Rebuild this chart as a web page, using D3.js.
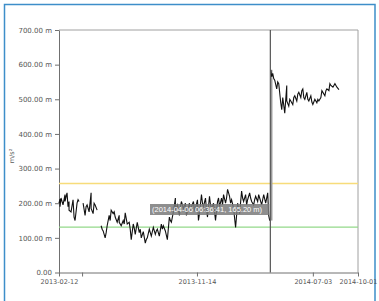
<!DOCTYPE html>
<html>
<head>
<meta charset="utf-8">
<script src="https://cdn.jsdelivr.net/npm/d3@7"></script>
<style>
  body { margin: 0; background: #fff; }
  svg { display: block; }
</style>
</head>
<body>
<div id="chart"></div>
<script>
// before the jump (null = gap in the record); repeated dates are same-day readings
let phase1 = [
  ["2013-02-12", 200], ["2013-02-14", 212], ["2013-02-14", 190], ["2013-02-16", 215], ["2013-02-20", 195], ["2013-02-24", 225],
  ["2013-02-24", 205], ["2013-02-28", 230], ["2013-03-02", 190], ["2013-03-04", 205], ["2013-03-04", 180], ["2013-03-08", 175],
  ["2013-03-12", 210], ["2013-03-14", 160], ["2013-03-16", 150], ["2013-03-20", 200], ["2013-03-22", 210], ["2013-03-24", 205],
  ["2013-03-28", null], ["2013-04-01", 200], ["2013-04-05", 165], ["2013-04-07", 190], ["2013-04-09", 195],
  ["2013-04-13", 175], ["2013-04-17", 230], ["2013-04-17", 185], ["2013-04-21", 170], ["2013-04-23", 200], ["2013-04-25", 195],
  ["2013-04-29", 180], ["2013-05-03", null], ["2013-05-07", 135], ["2013-05-09", 125], ["2013-05-11", 120],
  ["2013-05-15", 100], ["2013-05-17", 115], ["2013-05-19", 135], ["2013-05-23", 165], ["2013-05-25", 150], ["2013-05-27", 180],
  ["2013-05-31", 170], ["2013-06-02", 175], ["2013-06-04", 160], ["2013-06-08", 145], ["2013-06-12", 165], ["2013-06-12", 145],
  ["2013-06-16", 135], ["2013-06-20", 150], ["2013-06-22", 140], ["2013-06-24", 172], ["2013-06-28", 140],
  ["2013-07-02", 145], ["2013-07-04", 125], ["2013-07-06", 95], ["2013-07-10", 140], ["2013-07-12", 128], ["2013-07-14", 110],
  ["2013-07-18", 145], ["2013-07-22", 115], ["2013-07-24", 125], ["2013-07-26", 100], ["2013-07-30", 118],
  ["2013-08-03", 85], ["2013-08-05", 95], ["2013-08-07", 100], ["2013-08-11", 125], ["2013-08-13", 115], ["2013-08-15", 105],
  ["2013-08-19", 130], ["2013-08-23", 110], ["2013-08-25", 120], ["2013-08-27", 125], ["2013-08-31", 105],
  ["2013-09-04", 140], ["2013-09-06", 125], ["2013-09-08", 135], ["2013-09-12", 120], ["2013-09-16", 95],
  ["2013-09-20", 160], ["2013-09-22", 150], ["2013-09-24", 145], ["2013-09-28", 175], ["2013-10-02", 215], ["2013-10-02", 180],
  ["2013-10-06", 195], ["2013-10-10", 165], ["2013-10-12", 190], ["2013-10-14", 205], ["2013-10-18", 185],
  ["2013-10-22", 200], ["2013-10-24", 165], ["2013-10-26", 175], ["2013-10-30", 200], ["2013-11-01", 178], ["2013-11-03", 190],
  ["2013-11-07", 205], ["2013-11-09", 180], ["2013-11-11", 185], ["2013-11-15", 210], ["2013-11-17", 150], ["2013-11-19", 170],
  ["2013-11-23", 225], ["2013-11-25", 200], ["2013-11-27", 190], ["2013-12-01", 215], ["2013-12-03", 180], ["2013-12-05", 160],
  ["2013-12-09", 220], ["2013-12-11", 195], ["2013-12-13", 185], ["2013-12-17", 200], ["2013-12-19", 175], ["2013-12-21", 150],
  ["2013-12-25", 205], ["2013-12-27", 215], ["2013-12-29", 190], ["2014-01-02", 215], ["2014-01-04", 195], ["2014-01-06", 225],
  ["2014-01-10", 200], ["2014-01-12", 215], ["2014-01-14", 240], ["2014-01-18", 220], ["2014-01-20", 200], ["2014-01-22", 210],
  ["2014-01-26", 185], ["2014-01-30", 130], ["2014-02-03", 200], ["2014-02-05", 185], ["2014-02-07", 170],
  ["2014-02-11", 235], ["2014-02-13", 215], ["2014-02-15", 205], ["2014-02-19", 225], ["2014-02-21", 195], ["2014-02-23", 210],
  ["2014-02-27", 230], ["2014-03-01", 215], ["2014-03-03", 205], ["2014-03-07", 195], ["2014-03-09", 210], ["2014-03-11", 220],
  ["2014-03-15", 205], ["2014-03-17", 225], ["2014-03-19", 215], ["2014-03-23", 195], ["2014-03-25", 210], ["2014-03-27", 225],
  ["2014-03-31", 200], ["2014-04-02", 215], ["2014-04-04", 230], ["2014-04-06", 165], ["2014-04-08", 150]
];

// after the jump
let phase2 = [
  ["2014-04-10", 585], ["2014-04-12", 565], ["2014-04-14", 575], ["2014-04-16", 560], ["2014-04-18", 555],
  ["2014-04-22", 530], ["2014-04-24", 550], ["2014-04-26", 545], ["2014-04-30", 490], ["2014-05-02", 470], ["2014-05-04", 505],
  ["2014-05-08", 460], ["2014-05-12", 540], ["2014-05-12", 495], ["2014-05-16", 480], ["2014-05-18", 500], ["2014-05-20", 495],
  ["2014-05-24", 485], ["2014-05-26", 505], ["2014-05-28", 510], ["2014-06-01", 495], ["2014-06-03", 515], ["2014-06-05", 520],
  ["2014-06-09", 505], ["2014-06-11", 525], ["2014-06-13", 530], ["2014-06-15", 505], ["2014-06-17", 500], ["2014-06-21", 520],
  ["2014-06-23", 500], ["2014-06-25", 495], ["2014-06-29", 510], ["2014-07-01", 492], ["2014-07-03", 485], ["2014-07-07", 500],
  ["2014-07-11", 490], ["2014-07-13", 500], ["2014-07-15", 495], ["2014-07-19", 505], ["2014-07-21", 525], ["2014-07-23", 520],
  ["2014-07-27", 510], ["2014-07-29", 525], ["2014-07-31", 530], ["2014-08-04", 525], ["2014-08-06", 545], ["2014-08-08", 540],
  ["2014-08-12", 535], ["2014-08-16", 545], ["2014-08-20", 535], ["2014-08-24", 528]
];

let yTicks = [0, 100, 200, 300, 400, 500, 600, 700];
let xTickDates = ["2013-02-12", "2013-03-30", "2013-11-14", "2014-07-03", "2014-10-01"];
let xTickLabels = ["2013-02-12", "", "2013-11-14", "2014-07-03", "2014-10-01"];
let upperLimit = 257;
let lowerLimit = 131;
let cursorTime = "2014-04-06 06:36:41";
let cursorValue = 165.20;
let yLabel = "m/s\u00b2";

let parseDay = d3.timeParse("%Y-%m-%d");
let parseTime = d3.timeParse("%Y-%m-%d %H:%M:%S");

let width = 379, height = 301;
let margin = {top: 30, right: 21, bottom: 28.5, left: 59};

let svg = d3.select("#chart").append("svg")
    .attr("width", width)
    .attr("height", height);

// outer blue frame
svg.append("rect")
    .attr("x", 4.5).attr("y", 4.5)
    .attr("width", 370.5).attr("height", 310)
    .attr("fill", "none")
    .attr("stroke", "#3d8ec9")
    .attr("stroke-width", 1.5);

let x = d3.scaleTime()
    .domain([parseDay("2013-02-12"), parseDay("2014-10-01")])
    .range([margin.left, width - margin.right]);
let y = d3.scaleLinear()
    .domain([0, 700])
    .range([height - margin.bottom, margin.top]);

// top and right border of the plot
svg.append("path")
    .attr("d", `M${x.range()[0]},${y(700)}H${x.range()[1]}V${y(0)}`)
    .attr("fill", "none")
    .attr("stroke", "#a0a0a0")
    .attr("stroke-width", 1);

let x_axis = g => g
    .attr("transform", `translate(0, ${y(0)})`)
    .call(d3.axisBottom(x)
        .tickValues(xTickDates.map(parseDay))
        .tickFormat((d, i) => xTickLabels[i])
        .tickSize(4).tickSizeOuter(0))

let y_axis = g => g
    .attr("transform", `translate(${margin.left}, 0)`)
    .call(d3.axisLeft(y)
        .tickValues(yTicks)
        .tickFormat(d => d == 0 ? "0.00" : d3.format(".2f")(d) + " m")
        .tickSize(4).tickSizeOuter(0))

let gx = svg.append("g").call(x_axis);
let gy = svg.append("g").call(y_axis);

svg.selectAll(".domain, .tick line")
    .attr("stroke", "#707070");
svg.selectAll(".tick text")
    .attr("fill", "#555")
    .style("font-family", "DejaVu Sans")
    .style("font-size", "7px");
gx.selectAll(".tick text")
    .style("font-size", "6.5px");

svg.append("text")
    .attr("transform", `translate(14, 156) rotate(-90)`)
    .attr("text-anchor", "middle")
    .attr("fill", "#555")
    .style("font-family", "DejaVu Sans")
    .style("font-size", "6.5px")
    .text(yLabel);

// limit lines
svg.append("line")
    .attr("x1", x.range()[0]).attr("x2", x.range()[1])
    .attr("y1", y(upperLimit)).attr("y2", y(upperLimit))
    .attr("stroke", "#f7dc7a")
    .attr("stroke-width", 1.5);
svg.append("line")
    .attr("x1", x.range()[0]).attr("x2", x.range()[1])
    .attr("y1", y(lowerLimit)).attr("y2", y(lowerLimit))
    .attr("stroke", "#93d98a")
    .attr("stroke-width", 1.2);

let line = d3.line()
    .defined(d => d[1] != null)
    .x(d => x(parseDay(d[0])))
    .y(d => y(d[1]));

// jump connector drawn lighter
svg.append("line")
    .attr("x1", x(parseDay(phase2[0][0])) + 1).attr("x2", x(parseDay(phase2[0][0])) + 1)
    .attr("y1", y(phase1[phase1.length - 1][1])).attr("y2", y(phase2[0][1]))
    .attr("stroke", "#9a9a9a")
    .attr("stroke-width", 1.5);

[phase1, phase2].forEach(s => {
    svg.append("path")
        .datum(s)
        .attr("fill", "none")
        .attr("stroke", "#111")
        .attr("stroke-width", 1.1)
        .attr("d", line);
});

// cursor
let cx = x(parseTime(cursorTime)) + 1.5;
svg.append("line")
    .attr("x1", cx).attr("x2", cx)
    .attr("y1", y(700)).attr("y2", y(0))
    .attr("stroke", "#555")
    .attr("stroke-width", 1.2);

let tip = svg.append("g");
tip.append("rect")
    .attr("x", 150).attr("y", 204)
    .attr("width", cx - 151).attr("height", 11)
    .attr("fill", "#7a7a7a")
    .attr("opacity", 0.85);
tip.append("text")
    .attr("x", 152).attr("y", 212.3)
    .attr("fill", "#fff")
    .style("font-family", "Liberation Sans")
    .style("font-size", "7.5px")
    .text(`(${cursorTime}, ${cursorValue.toFixed(2)} m)`);
</script>
</body>
</html>
